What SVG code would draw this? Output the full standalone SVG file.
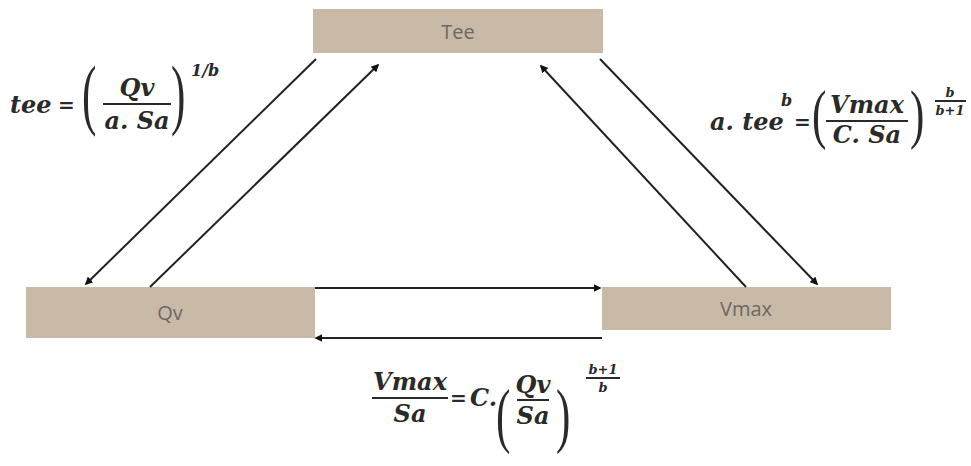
<svg xmlns="http://www.w3.org/2000/svg" width="971" height="466" viewBox="0 0 971 466">
<style>
.box{fill:#c9b9a7}
.lbl{font-family:"Open Sans","DejaVu Sans",sans-serif;font-size:20px;fill:#6b6864;text-anchor:middle}
.m{font-family:"DejaVu Serif","Liberation Serif",serif;font-style:italic;font-weight:bold;font-size:24px;fill:#2a2a2a}
.eq{font-size:20px}
.mc{text-anchor:middle}
.s{font-size:16px}
.ss{font-size:13px}
.p{font-family:"Liberation Serif","DejaVu Serif",serif;font-size:72px;fill:#2a2a2a}
.bar{stroke:#2a2a2a;stroke-width:2}
.c{stroke:#222;stroke-width:2;fill:none}
</style>
<defs>
<marker id="ah" viewBox="0 0 10 10" refX="8" refY="5" markerWidth="4" markerHeight="4" orient="auto" markerUnits="strokeWidth">
<path d="M0,0 L10,5 L0,10 z" fill="#111"/>
</marker>
</defs>
<rect width="971" height="466" fill="#fff"/>
<g id="tee"><rect class="box" x="313" y="9" width="290" height="44"/><text class="lbl" x="458" y="39">Tee</text></g>
<g id="qv"><rect class="box" x="26" y="287" width="289" height="51"/><text class="lbl" x="170" y="320">Qv</text></g>
<g id="vmax"><rect class="box" x="602" y="287" width="289" height="43"/><text class="lbl" x="746" y="316">Vmax</text></g>
<g id="connectors">
<line class="c" x1="316" y1="59" x2="86" y2="284" marker-end="url(#ah)"/>
<line class="c" x1="150" y1="287" x2="378" y2="65" marker-end="url(#ah)"/>
<line class="c" x1="746" y1="287" x2="541" y2="66" marker-end="url(#ah)"/>
<line class="c" x1="600" y1="59" x2="817" y2="284" marker-end="url(#ah)"/>
<line class="c" x1="315" y1="288" x2="600" y2="288" marker-end="url(#ah)"/>
<line class="c" x1="602" y1="338" x2="316" y2="338" marker-end="url(#ah)"/>
</g>
<g id="eq-left">
<text class="m" x="10" y="113">tee</text>
<text class="m eq" x="58" y="112">=</text>
<text class="p" transform="translate(82,120) scale(0.6,1.08)">(</text>
<text class="m mc" x="137" y="96">Qv</text>
<line class="bar" x1="103" y1="104" x2="171" y2="104"/>
<text class="m mc" x="137" y="129">a. Sa</text>
<text class="p" transform="translate(171,120) scale(0.6,1.08)">)</text>
<text class="m s" x="191" y="76">1/b</text>
</g>
<g id="eq-right">
<text class="m" x="710" y="130">a. tee</text>
<text class="m s" x="781" y="106">b</text>
<text class="m eq" x="794" y="129">=</text>
<text class="p" transform="translate(812,136) scale(0.6,0.9)">(</text>
<text class="m mc" x="867" y="113">Vmax</text>
<line class="bar" x1="826" y1="121" x2="908" y2="121"/>
<text class="m mc" x="867" y="143">C. Sa</text>
<text class="p" transform="translate(910,136) scale(0.6,0.9)">)</text>
<text class="m ss mc" x="950" y="97">b</text>
<line class="bar" x1="935" y1="101" x2="966" y2="101" stroke-width="1.5"/>
<text class="m ss mc" x="950" y="115">b+1</text>
</g>
<g id="eq-bottom">
<text class="m mc" x="410" y="390">Vmax</text>
<line class="bar" x1="372" y1="398" x2="448" y2="398"/>
<text class="m mc" x="410" y="422">Sa</text>
<text class="m eq" x="450" y="405">=</text>
<text class="m" x="470" y="406">C.</text>
<text class="p" transform="translate(496,439) scale(0.6,1)">(</text>
<text class="m mc" x="533" y="393">Qv</text>
<line class="bar" x1="517" y1="400" x2="549" y2="400"/>
<text class="m mc" x="533" y="424">Sa</text>
<text class="p" transform="translate(556,439) scale(0.6,1)">)</text>
<text class="m ss mc" x="603" y="374">b+1</text>
<line class="bar" x1="586" y1="378" x2="620" y2="378" stroke-width="1.5"/>
<text class="m ss mc" x="603" y="392">b</text>
</g>
</svg>
